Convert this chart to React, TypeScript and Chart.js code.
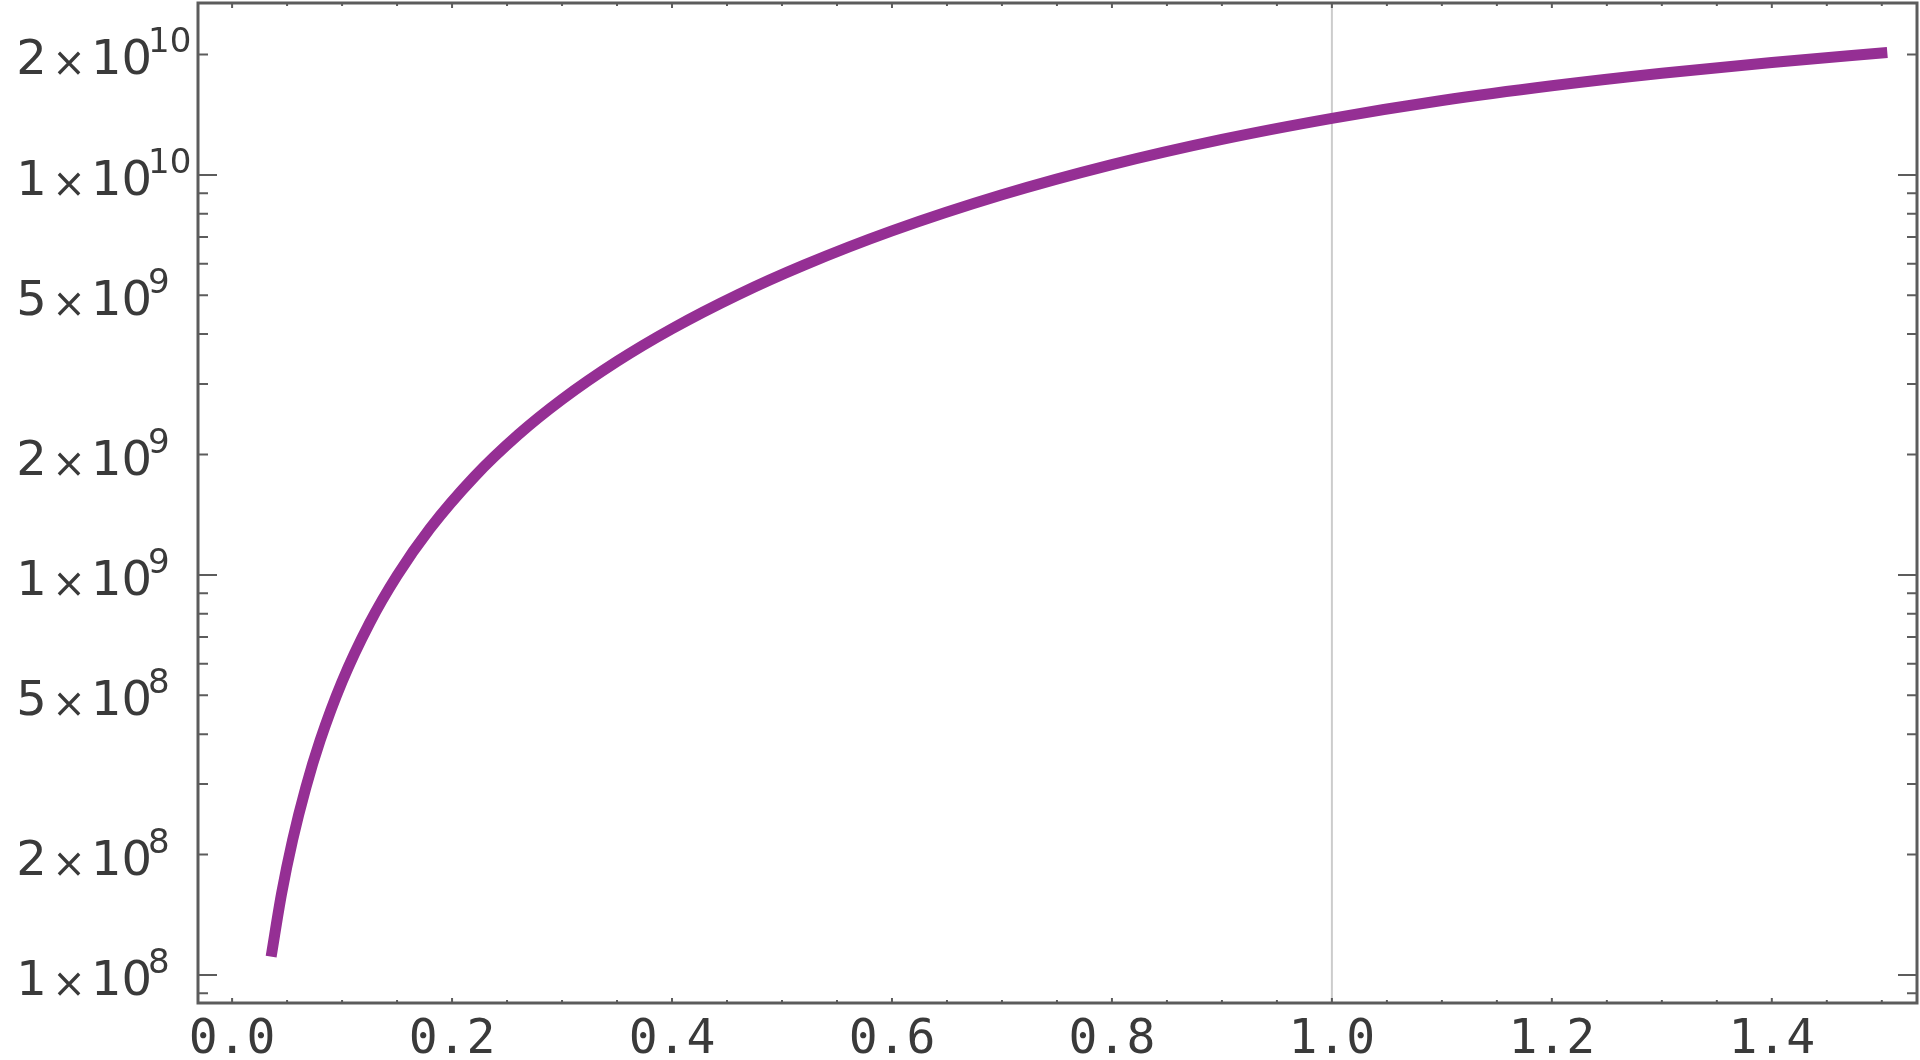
import React, { useEffect, useRef } from "react";
import { Chart, registerables } from "chart.js";

Chart.register(...registerables);

// Curve data
const xValues = [0.0355, 0.045, 0.055, 0.067, 0.08, 0.1, 0.125, 0.15, 0.18, 0.22, 0.26, 0.3, 0.35, 0.4, 0.46, 0.52, 0.6, 0.7, 0.8, 0.9, 1.0, 1.1, 1.2, 1.3, 1.4, 1.505];
const yValues = [1.112e8, 1.598e8, 2.173e8, 2.939e8, 3.854e8, 5.411e8, 7.578e8, 9.961e8, 1.307e9, 1.756e9, 2.238e9, 2.746e9, 3.417e9, 4.125e9, 5.017e9, 5.948e9, 7.244e9, 8.918e9, 1.061e10, 1.227e10, 1.385e10, 1.535e10, 1.671e10, 1.796e10, 1.91e10, 2.022e10];

// Axis ranges
const xMin = -0.031;
const xMax = 1.532;
const yMin = 8.51e7;
const yMax = 2.69e10;

// Tick labels
const xTickValues = [0.0, 0.2, 0.4, 0.6, 0.8, 1.0, 1.2, 1.4];
const xTickLabels = ["0.0", "0.2", "0.4", "0.6", "0.8", "1.0", "1.2", "1.4"];
const yTickValues = [1e8, 2e8, 5e8, 1e9, 2e9, 5e9, 1e10, 2e10];
const yTickMantissas = ["1", "2", "5", "1", "2", "5", "1", "2"];
const yTickExponents = ["8", "8", "8", "9", "9", "9", "10", "10"];
const gridLineX = 1.0;

const LINE_COLOR = "#952f94";
const FRAME_COLOR = "#5c5c5c";
const TEXT_COLOR = "#3a3a3a";

const decorPlugin = {
  id: "decor",
  beforeDatasetsDraw(chart: any) {
    const { ctx, chartArea, scales } = chart;
    const gx = scales.x.getPixelForValue(gridLineX);
    ctx.save();
    ctx.strokeStyle = "#cccccc";
    ctx.lineWidth = 2;
    ctx.beginPath();
    ctx.moveTo(gx, chartArea.top);
    ctx.lineTo(gx, chartArea.bottom);
    ctx.stroke();
    ctx.restore();
  },
  afterDatasetsDraw(chart: any) {
    const { ctx, chartArea, scales } = chart;
    const { left, right, top, bottom } = chartArea;
    const xs = scales.x;
    const ys = scales.y;
    ctx.save();
    // ticks
    ctx.strokeStyle = FRAME_COLOR;
    ctx.lineWidth = 2;
    ctx.beginPath();
    for (let d = 7; d <= 10; d++) {
      for (let m = 1; m <= 9; m++) {
        const v = m * Math.pow(10, d);
        if (v < yMin || v > yMax) continue;
        const py = ys.getPixelForValue(v);
        const len = m === 1 ? 19 : 10;
        ctx.moveTo(left, py);
        ctx.lineTo(left + len, py);
        ctx.moveTo(right, py);
        ctx.lineTo(right - len, py);
      }
    }
    for (let i = 0; i <= 31; i++) {
      const v = i * 0.05;
      if (v < xMin || v > xMax) continue;
      const px = xs.getPixelForValue(v);
      const len = i % 4 === 0 ? 5 : 3;
      ctx.moveTo(px, bottom);
      ctx.lineTo(px, bottom - len);
      ctx.moveTo(px, top);
      ctx.lineTo(px, top + len);
    }
    ctx.stroke();
    // frame
    ctx.lineWidth = 3;
    ctx.strokeRect(left, top, right - left, bottom - top);

    // x labels
    ctx.fillStyle = TEXT_COLOR;
    ctx.font = '48px "DejaVu Sans Mono"';
    ctx.textAlign = "center";
    ctx.textBaseline = "alphabetic";
    xTickValues.forEach((v, i) => {
      ctx.fillText(xTickLabels[i], xs.getPixelForValue(v), 1053);
    });

    // y labels
    yTickValues.forEach((v, i) => {
      const py = ys.getPixelForValue(v);
      ctx.font = '48px "DejaVu Sans"';
      ctx.textAlign = "center";
      ctx.fillText(yTickMantissas[i], 31.5, py + 20);
      ctx.font = '40px "DejaVu Sans"';
      ctx.fillText("\u00d7", 69, py + 22);
      ctx.font = '48px "DejaVu Sans"';
      ctx.fillText("10", 121.5, py + 20);
      ctx.font = '34px "DejaVu Sans"';
      ctx.textAlign = "left";
      ctx.fillText(yTickExponents[i], 148, py - 2);
    });
    ctx.restore();
  },
};

export default function App() {
  const canvasRef = useRef<HTMLCanvasElement | null>(null);

  useEffect(() => {
    if (!canvasRef.current) return;
    const data = xValues.map((x, i) => ({ x, y: yValues[i] }));
    const chart = new Chart(canvasRef.current, {
      type: "line",
      data: {
        datasets: [
          {
            data,
            borderColor: LINE_COLOR,
            borderWidth: 11,
            pointRadius: 0,
            cubicInterpolationMode: "monotone",
            borderCapStyle: "butt",
            borderJoinStyle: "round",
            fill: false,
          },
        ],
      },
      options: {
        animation: false,
        responsive: false,
        maintainAspectRatio: false,
        layout: { padding: { left: 198, right: 3, top: 3, bottom: 57 } },
        plugins: { legend: { display: false }, tooltip: { enabled: false } },
        scales: {
          x: { type: "linear", min: xMin, max: xMax, display: false },
          y: { type: "logarithmic", min: yMin, max: yMax, display: false },
        },
      },
      plugins: [decorPlugin],
    });
    return () => chart.destroy();
  }, []);

  return (
    <div style={{ position: "fixed", left: 0, top: 0, width: 1920, height: 1060, background: "#ffffff" }}>
      <canvas ref={canvasRef} width={1920} height={1060} style={{ display: "block" }} />
    </div>
  );
}
